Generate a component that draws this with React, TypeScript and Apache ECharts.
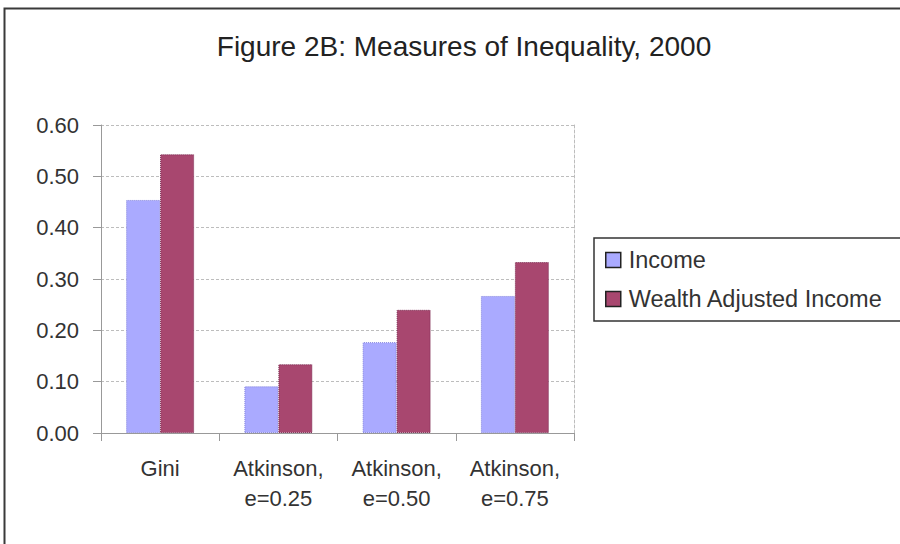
import React, { useEffect, useRef } from "react";
import * as echarts from "echarts";

const categories = ["Gini", "Atkinson,\ne=0.25", "Atkinson,\ne=0.50", "Atkinson,\ne=0.75"];
const incomeValues = [0.454, 0.091, 0.177, 0.267];
const wealthValues = [0.543, 0.134, 0.24, 0.333];
const seriesNames = ["Income", "Wealth Adjusted Income"];
const titleText = "Figure 2B: Measures of Inequality, 2000";

const FONT = "'Liberation Sans', Arial, Helvetica, sans-serif";

export default function App() {
  const ref = useRef<HTMLDivElement>(null);
  useEffect(() => {
    if (!ref.current) return;
    const chart = echarts.init(ref.current, undefined, { renderer: "svg" });
    chart.setOption({
      animation: false,
      backgroundColor: "#ffffff",
      textStyle: { fontFamily: FONT },
      title: {
        text: titleText,
        left: 459,
        textAlign: "center",
        top: 27,
        textStyle: { fontFamily: FONT, fontSize: 28, fontWeight: "normal", color: "#222" },
      },
      legend: {
        orient: "vertical",
        left: 594,
        top: 238,
        data: seriesNames,
        icon: "rect",
        itemWidth: 15,
        itemHeight: 15,
        itemGap: 15,
        padding: [10, 18, 10, 11],
        backgroundColor: "#ffffff",
        borderColor: "#333",
        borderWidth: 1.5,
        borderRadius: 0,
        itemStyle: { borderColor: "#222", borderWidth: 1.5 },
        textStyle: { fontFamily: FONT, fontSize: 23.5, color: "#333", padding: [0, 0, 0, 3] },
      },
      grid: { left: 101, right: 326, top: 125, bottom: 111, containLabel: false },
      xAxis: {
        type: "category",
        data: categories,
        axisLine: { lineStyle: { color: "#999", width: 1 } },
        axisTick: { show: true, length: 8, lineStyle: { color: "#999" } },
        axisLabel: {
          fontFamily: FONT,
          fontSize: 22,
          lineHeight: 30,
          color: "#333",
          margin: 20,
          interval: 0,
        },
      },
      yAxis: [
        {
          type: "value",
          min: 0,
          max: 0.6,
          interval: 0.1,
          axisLine: { show: true, lineStyle: { color: "#999", width: 1 } },
          axisTick: { show: true, length: 8, lineStyle: { color: "#999" } },
          axisLabel: {
            fontFamily: FONT,
            fontSize: 22,
            color: "#333",
            margin: 22,
            formatter: (v: number) => v.toFixed(2),
          },
          splitLine: { show: true, lineStyle: { color: "#bdbdbd", type: [3, 2], width: 1 } },
        },
        {
          type: "value",
          min: 0,
          max: 0.6,
          interval: 0.1,
          position: "right",
          axisLine: { show: true, lineStyle: { color: "#bdbdbd", type: [3, 2], width: 1 } },
          axisTick: { show: false },
          axisLabel: { show: false },
          splitLine: { show: false },
        },
      ],
      series: [
        {
          name: seriesNames[0],
          type: "bar",
          data: incomeValues,
          barWidth: 34,
          barGap: "0%",
          itemStyle: { color: "#aaaaff", borderColor: "#8585dd", borderWidth: 1, borderType: "dotted" },
        },
        {
          name: seriesNames[1],
          type: "bar",
          data: wealthValues,
          barWidth: 34,
          barGap: "0%",
          itemStyle: { color: "#a8476f", borderColor: "#7a2a50", borderWidth: 1, borderType: "dotted" },
        },
      ],
      graphic: [
        {
          type: "polyline",
          silent: true,
          shape: { points: [[4.5, 560], [4.5, 8.5], [905, 8.5]] },
          style: { fill: "none", stroke: "#3a3a3a", lineWidth: 2 },
          z: 100,
        },
      ],
    });
    return () => chart.dispose();
  }, []);
  return (
    <div style={{ position: "fixed", left: 0, top: 0, width: 900, height: 544, background: "#fff", overflow: "hidden" }}>
      <div ref={ref} style={{ width: 900, height: 544 }} />
    </div>
  );
}
